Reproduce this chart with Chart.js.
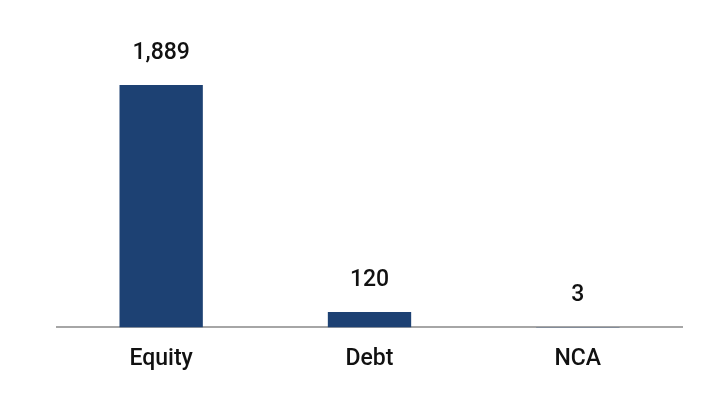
<!DOCTYPE html>
<html>
<head>
<meta charset="utf-8">
<script src="https://cdn.jsdelivr.net/npm/chart.js@4"></script>
<style>
  html, body { margin: 0; padding: 0; background: #fff; }
  #wrap { width: 711px; height: 401px; }
</style>
</head>
<body>
<div id="wrap"><canvas id="fundChart"></canvas></div>
<script>
// Chart data
const categories = ['Equity', 'Debt', 'NCA'];
const values = [1889, 120, 3];
const valueLabels = ['1,889', '120', '3'];

// Draw value labels above each bar
const valueLabelPlugin = {
    id: 'valueLabels',
    afterDatasetsDraw(chart) {
        const ctx = chart.ctx;
        const meta = chart.getDatasetMeta(0);
        ctx.save();
        ctx.font = '500 23px Roboto';
        ctx.fillStyle = '#111';
        ctx.textAlign = 'center';
        ctx.textBaseline = 'middle';
        meta.data.forEach((bar, i) => {
            ctx.fillText(valueLabels[i], bar.x, bar.y - 32);
        });
        ctx.restore();
    }
};

const ctx = document.getElementById('fundChart').getContext('2d');
const fundChart = new Chart(ctx, {
    type: 'bar',
    data: {
        labels: categories,
        datasets: [{
            data: values,
            backgroundColor: '#1d4173',
            barPercentage: 0.8,
            categoryPercentage: 0.5
        }]
    },
    options: {
        responsive: true,
        maintainAspectRatio: false,
        animation: false,
        layout: {
            padding: { left: 57, right: 29, top: 8, bottom: 10 }
        },
        plugins: {
            legend: { display: false },
            tooltip: { enabled: false }
        },
        scales: {
            x: {
                grid: { display: false, drawTicks: false },
                border: { display: true, color: '#a6a6a6', width: 2 },
                ticks: {
                    padding: 18,
                    color: '#111',
                    font: { family: 'Roboto', size: 23, weight: '500' }
                }
            },
            y: {
                display: false,
                min: 0,
                max: 2490
            }
        }
    },
    plugins: [valueLabelPlugin]
});
</script>
</body>
</html>
